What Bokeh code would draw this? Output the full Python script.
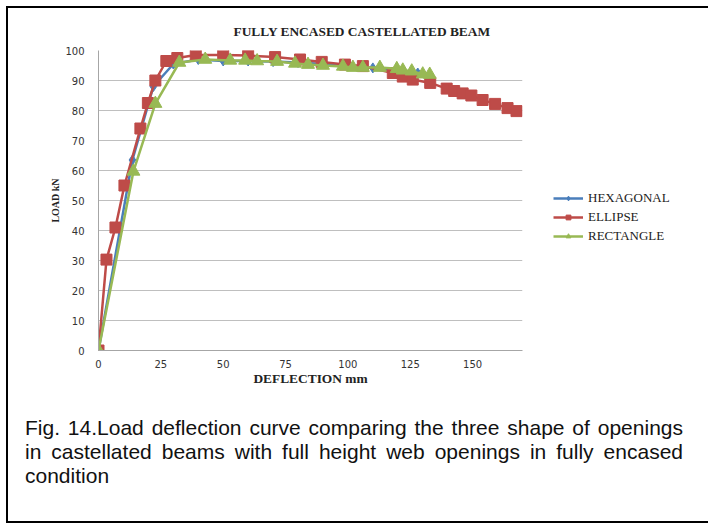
from bokeh.plotting import figure
from bokeh.layouts import column
from bokeh.models import Range1d, FixedTicker, Legend, LegendItem, Div
from bokeh.embed import file_html
from bokeh.resources import INLINE

# ---- data ----
hex_x = [0, 13.6, 22.0, 30.0, 40.0, 50.0, 60.0, 70.0, 80.0, 90.0, 100.0, 110.0, 120.0, 128.0]
hex_y = [0, 63.5, 88.0, 95.5, 97.0, 96.5, 96.5, 96.3, 96.0, 95.5, 94.8, 94.2, 93.3, 92.5]

ell_x = [0, 3.2, 6.8, 10.4, 16.8, 19.8, 22.8, 27.2, 31.6, 39.0, 50.0, 60.0, 70.8, 80.8, 89.5,
         98.8, 106.0, 118.0, 122.0, 126.0, 133.0, 139.6, 142.6, 146.0, 149.5, 154.0, 159.0, 164.0, 167.6]
ell_y = [0, 30.3, 41.0, 55.0, 74.0, 82.5, 90.0, 96.5, 97.5, 98.5, 98.5, 98.3, 97.8, 97.0, 96.2,
         95.3, 94.8, 92.5, 91.3, 90.3, 89.2, 87.3, 86.5, 85.7, 85.0, 83.5, 82.2, 80.8, 79.8]

rect_x = [0, 14.0, 22.8, 32.4, 42.8, 52.8, 58.8, 63.6, 71.6, 78.8, 84.0, 90.0, 98.0, 102.0,
          106.0, 112.8, 119.6, 122.0, 125.6, 130.0, 132.8]
rect_y = [0, 59.7, 82.3, 96.0, 97.0, 96.7, 96.7, 96.5, 96.3, 95.7, 95.3, 95.0, 94.7, 94.3,
          94.3, 94.3, 93.9, 93.4, 93.1, 92.1, 92.0]

x_ticks = [0, 25, 50, 75, 100, 125, 150]
y_ticks = [0, 10, 20, 30, 40, 50, 60, 70, 80, 90, 100]

title_text = "FULLY ENCASED CASTELLATED  BEAM"
x_label = "DEFLECTION mm"
y_label = "LOAD kN"
caption = ["Fig. 14.Load deflection curve comparing the three shape of openings",
           "in castellated beams with full height web openings in fully encased",
           "condition"]

# page geometry (page pixels)
OFF = 8                       # inner edge of the outer border
FL, FR, FT, FB = 98, 522, 50, 350
XMAX, YMAX = 170, 100
PW, PH = 702 - OFF, 392

p = figure(width=PW, height=PH, output_backend="svg", toolbar_location=None,
           x_range=Range1d(0, XMAX), y_range=Range1d(0, YMAX),
           min_border_left=FL - OFF, min_border_right=(OFF + PW) - FR,
           min_border_top=FT - OFF, min_border_bottom=(OFF + PH) - FB)
p.frame_width = FR - FL
p.frame_height = FB - FT
p.outline_line_color = None
p.background_fill_color = "white"
p.border_fill_color = "white"

# title
p.title.text = title_text
p.title.align = "left"
p.title.offset = 135
p.title.text_font = "Liberation Serif"
p.title.text_font_style = "bold"
p.title.text_font_size = "13.4px"
p.title.text_color = "#222222"
p.title.standoff = 23

# axes
p.xaxis.ticker = FixedTicker(ticks=x_ticks)
p.yaxis.ticker = FixedTicker(ticks=y_ticks)
for ax in (p.xaxis, p.yaxis):
    ax.axis_line_color = "#A6A6A6"
    ax.major_tick_line_color = None
    ax.minor_tick_line_color = None
    ax.major_label_text_font = "DejaVu Sans"
    ax.major_label_text_font_size = "10px"
    ax.major_label_text_color = "#333333"
    ax.axis_label_text_font = "Liberation Serif"
    ax.axis_label_text_font_style = "bold"
    ax.axis_label_text_color = "#222222"
p.xaxis.axis_label = x_label
p.yaxis.axis_label = y_label
p.xaxis.axis_label_text_font_size = "13.4px"
p.yaxis.axis_label_text_font_size = "10px"
p.yaxis.major_label_standoff = 8
p.xaxis.major_label_standoff = 3
p.yaxis.axis_label_standoff = 1
p.xaxis.axis_label_standoff = 0
p.xgrid.grid_line_color = None
p.ygrid.grid_line_color = "#BFBFBF"
p.ygrid.grid_line_width = 1

# series
l1 = p.line(hex_x, hex_y, line_color="#4A7EBB", line_width=2.5)
m1 = p.scatter(hex_x, hex_y, marker="diamond", size=10, fill_color="#4A7EBB", line_color="#4A7EBB")
l2 = p.line(ell_x, ell_y, line_color="#BE4B48", line_width=2.5)
m2 = p.scatter(ell_x, ell_y, marker="square", size=11, fill_color="#BE4B48", line_color="#BE4B48")
l3 = p.line(rect_x, rect_y, line_color="#98B954", line_width=2.5)
m3 = p.scatter(rect_x, rect_y, marker="triangle", size=13, fill_color="#98B954", line_color="#98B954")

legend = Legend(items=[LegendItem(label="HEXAGONAL", renderers=[l1, m1]),
                       LegendItem(label="ELLIPSE", renderers=[l2, m2]),
                       LegendItem(label="RECTANGLE", renderers=[l3, m3])],
                location=(31, 106), border_line_color=None, background_fill_alpha=0,
                label_text_font="Liberation Serif", label_text_font_size="13px",
                label_text_color="#222222", glyph_width=30, glyph_height=12,
                spacing=3, padding=0, margin=0, label_standoff=5)
p.add_layout(legend, "right")

# caption (justified like the reference)
just = "text-align:justify;text-align-last:justify;"
cap_html = ('<div style="width:658px;">'
            f'<div style="{just}">{caption[0]}</div>'
            f'<div style="{just}">{caption[1]}</div>'
            f'<div>{caption[2]}</div>'
            '</div>')
cap = Div(text=cap_html, width=658, height=121, margin=(0, 0, 0, 17),
          styles={"font-family": "Liberation Sans, Arial, sans-serif", "font-size": "21px",
                  "line-height": "24px", "color": "#111111", "padding-top": "16px",
                  "box-sizing": "border-box"})

layout = column(p, cap, margin=(6, 0, 0, 6),
                styles={"border": "2px solid black", "background-color": "white"})

open("out.html", "w").write(file_html(layout, INLINE))
